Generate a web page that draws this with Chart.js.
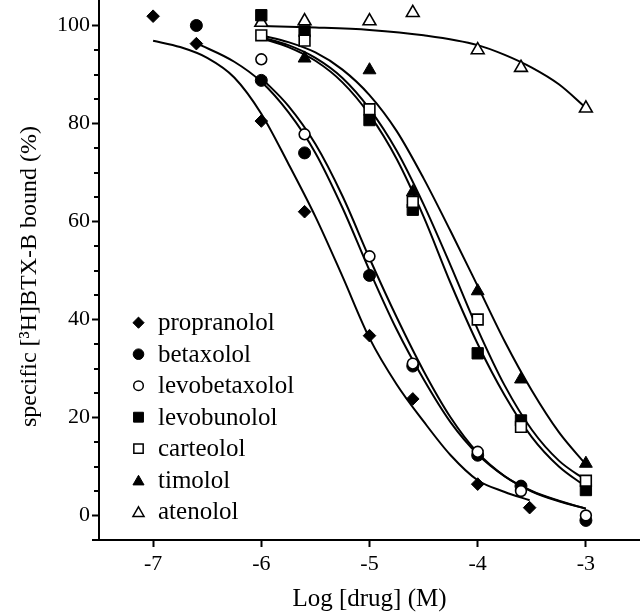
<!DOCTYPE html>
<html><head><meta charset="utf-8">
<script src="https://cdn.jsdelivr.net/npm/chart.js@4.4.1/dist/chart.umd.min.js"></script>
<style>html,body{margin:0;padding:0;background:#fff;}canvas{display:block;}</style>
</head><body>
<canvas id="c" width="640" height="614"></canvas>
<script>
// ---- tick values ----
const xTicks = [-7, -6, -5, -4, -3];
const yTicks = [0, 20, 40, 60, 80, 100];
const yMinorTicks = [5, 10, 15, 25, 30, 35, 45, 50, 55, 65, 70, 75, 85, 90, 95];

// ---- labels ----
const drugNames = ['propranolol', 'betaxolol', 'levobetaxolol', 'levobunolol', 'carteolol', 'timolol', 'atenolol'];
const xTitle = 'Log [drug] (M)';
const yTitle = 'specific [\u00B3H]BTX-B bound (%)\u00A0\u00A0';

// ---- measured points (log M, % bound) ----
const propranololX = [-7, -6.6, -6, -5.6, -5, -4.6, -4, -3.52];
const propranololY = [101.9, 96.3, 80.5, 62.0, 36.7, 23.8, 6.4, 1.6];
const betaxololX = [-6.6, -6, -5.6, -5, -4.6, -4, -3.6, -3];
const betaxololY = [100.0, 88.8, 74.0, 49.0, 30.5, 12.3, 6.0, -1.0];
const levobetaxololX = [-6, -5.6, -5, -4.6, -4, -3.6, -3];
const levobetaxololY = [93.1, 77.8, 52.9, 31.0, 13.0, 5.0, 0.0];
const levobunololX = [-6, -5.6, -5, -4.6, -4, -3.6, -3];
const levobunololY = [102.1, 98.8, 80.7, 62.4, 33.1, 19.4, 5.2];
const carteololX = [-6, -5.6, -5, -4.6, -4, -3.6, -3];
const carteololY = [98.0, 96.9, 82.9, 64.0, 40.0, 18.1, 7.1];
const timololX = [-5.6, -5, -4.6, -4, -3.6, -3];
const timololY = [93.3, 90.9, 66.0, 45.8, 27.8, 10.6];
const atenololX = [-6, -5.6, -5, -4.6, -4, -3.6, -3];
const atenololY = [100.6, 100.9, 100.9, 102.6, 95.0, 91.4, 83.1];

// ---- fitted curves ----
const propranololCurveX = [-7, -6.75, -6.5, -6.25, -6, -5.75, -5.5, -5.25, -5, -4.75, -4.5, -4.25, -4, -3.75, -3.52];
const propranololCurveY = [96.9, 95.6, 93.4, 89.4, 82.0, 71.8, 61.0, 48.8, 36.2, 26.8, 19.2, 12.3, 7.2, 4.8, 3.1];
const betaxololCurveX = [-6.6, -6.25, -6, -5.75, -5.5, -5.25, -5, -4.75, -4.5, -4.25, -4, -3.75, -3.5, -3.25, -3];
const betaxololCurveY = [96.4, 92.6, 88.5, 82.3, 74.0, 62.8, 50.0, 38.0, 27.8, 19.0, 12.5, 8.0, 5.0, 3.0, 1.4];
const levobetaxololCurveX = [-6, -5.75, -5.5, -5.25, -5, -4.75, -4.5, -4.25, -4, -3.75, -3.5, -3.25, -3];
const levobetaxololCurveY = [89.3, 83.6, 75.8, 65.2, 52.5, 40.5, 29.5, 20.0, 12.8, 8.0, 4.9, 2.9, 1.4];
const levobunololCurveX = [-6, -5.75, -5.5, -5.25, -5, -4.75, -4.5, -4.25, -4, -3.75, -3.5, -3.25, -3];
const levobunololCurveY = [97.4, 95.6, 92.8, 88.4, 81.8, 72.8, 61.0, 47.4, 35.0, 24.5, 16.0, 10.0, 5.9];
const carteololCurveX = [-6, -5.75, -5.5, -5.25, -5, -4.75, -4.5, -4.25, -4, -3.75, -3.5, -3.25, -3];
const carteololCurveY = [97.6, 96.0, 93.4, 89.3, 83.0, 74.5, 63.5, 51.0, 38.0, 26.5, 17.5, 11.2, 7.2];
const timololCurveX = [-6, -5.75, -5.5, -5.25, -5, -4.75, -4.5, -4.25, -4, -3.75, -3.5, -3.25, -3];
const timololCurveY = [98.0, 96.6, 94.5, 91.0, 85.8, 78.5, 68.8, 58.0, 46.8, 35.5, 25.5, 17.0, 10.4];
const atenololCurveX = [-6, -5.5, -5, -4.5, -4, -3.75, -3.5, -3.25, -3];
const atenololCurveY = [99.9, 99.6, 99.1, 98.0, 96.0, 94.0, 91.4, 88.0, 83.2];

// ---- styling (kept separate from data) ----
const markerStyle = {
  propranolol:   {shape: 'rectRot',  filled: true,  r: 6.3, lr: 5.6, order: 1},
  betaxolol:     {shape: 'circle',   filled: true,  r: 6.0, lr: 5.3, order: 1},
  levobetaxolol: {shape: 'circle',   filled: false, r: 5.4, lr: 4.8, order: 0},
  levobunolol:   {shape: 'rect',     filled: true,  r: 8.0, lr: 7.0, order: 1},
  carteolol:     {shape: 'rect',     filled: false, r: 7.6, lr: 6.6, order: 0},
  timolol:       {shape: 'triangle', filled: true,  r: 7.4, lr: 6.4, order: 1},
  atenolol:      {shape: 'triangle', filled: false, r: 7.4, lr: 6.4, order: 1.5}
};

const pointsX = [propranololX, betaxololX, levobetaxololX, levobunololX, carteololX, timololX, atenololX];
const pointsY = [propranololY, betaxololY, levobetaxololY, levobunololY, carteololY, timololY, atenololY];
const curvesX = [propranololCurveX, betaxololCurveX, levobetaxololCurveX, levobunololCurveX, carteololCurveX, timololCurveX, atenololCurveX];
const curvesY = [propranololCurveY, betaxololCurveY, levobetaxololCurveY, levobunololCurveY, carteololCurveY, timololCurveY, atenololCurveY];

const zip = (xs, ys) => xs.map((x, i) => ({x: x, y: ys[i]}));

const datasets = [];
drugNames.forEach((name, i) => {
  const s = markerStyle[name];
  datasets.push({
    label: name,
    data: zip(pointsX[i], pointsY[i]),
    showLine: false,
    pointStyle: s.shape,
    pointRadius: s.r,
    pointHoverRadius: s.r,
    pointBackgroundColor: s.filled ? '#000' : '#fff',
    pointBorderColor: '#000',
    pointBorderWidth: s.filled ? 1 : 1.6,
    clip: false,
    order: s.order
  });
});
drugNames.forEach((name, i) => {
  datasets.push({
    label: name + ' fit',
    data: zip(curvesX[i], curvesY[i]),
    showLine: true,
    pointRadius: 0,
    pointHoverRadius: 0,
    borderColor: '#000',
    borderWidth: 2,
    fill: false,
    cubicInterpolationMode: 'monotone',
    clip: false,
    order: 3
  });
});

function drawShape(ctx, shape, r, x, y) {
  if (Chart.helpers && Chart.helpers.drawPoint) {
    Chart.helpers.drawPoint(ctx, {pointStyle: shape, radius: r, rotation: 0, borderWidth: ctx.lineWidth}, x, y);
    return;
  }
  ctx.beginPath();
  if (shape === 'circle') ctx.arc(x, y, r, 0, Math.PI * 2);
  else if (shape === 'rect') { const h = r * Math.SQRT1_2; ctx.rect(x - h, y - h, 2 * h, 2 * h); }
  else if (shape === 'rectRot') { ctx.moveTo(x, y - r); ctx.lineTo(x + r, y); ctx.lineTo(x, y + r); ctx.lineTo(x - r, y); ctx.closePath(); }
  else if (shape === 'triangle') { ctx.moveTo(x, y - r); ctx.lineTo(x + r * 0.866, y + r / 2); ctx.lineTo(x - r * 0.866, y + r / 2); ctx.closePath(); }
  ctx.fill(); ctx.stroke();
}

const extras = {
  id: 'extras',
  afterDraw(chart) {
    const ctx = chart.ctx, ys = chart.scales.y, xs = chart.scales.x;
    ctx.save();
    ctx.strokeStyle = '#000';
    ctx.lineWidth = 2;
    yMinorTicks.forEach(v => {
      const py = Math.round(ys.getPixelForValue(v));
      ctx.beginPath(); ctx.moveTo(ys.right - 5, py); ctx.lineTo(ys.right, py); ctx.stroke();
    });
    ctx.beginPath(); ctx.moveTo(xs.left - 7, xs.top); ctx.lineTo(xs.left, xs.top); ctx.stroke();
    // legend
    const lx = 138.5, tx = 158, y0 = 322.7, dy = 31.5;
    ctx.font = "25px 'Liberation Serif', serif";
    ctx.textBaseline = 'alphabetic';
    ctx.textAlign = 'left';
    drugNames.forEach((name, i) => {
      const s = markerStyle[name];
      const y = y0 + i * dy;
      ctx.fillStyle = s.filled ? '#000' : '#fff';
      ctx.strokeStyle = '#000';
      ctx.lineWidth = s.filled ? 1 : 1.5;
      drawShape(ctx, s.shape, s.lr, lx, y + (s.shape === 'triangle' ? 1.5 : 0));
      ctx.fillStyle = '#000';
      ctx.fillText(name, tx, y + 7.5);
    });
    ctx.restore();
  }
};

Chart.defaults.font.family = "'Liberation Serif', 'Times New Roman', serif";
Chart.defaults.color = '#000';

new Chart(document.getElementById('c'), {
  type: 'scatter',
  data: {datasets: datasets},
  options: {
    responsive: false,
    animation: false,
    devicePixelRatio: 1,
    layout: {autoPadding: false, padding: {top: 1, right: 0, left: 0, bottom: 0}},
    plugins: {legend: {display: false}, tooltip: {enabled: false}},
    scales: {
      x: {
        type: 'linear', min: -7.5, max: -2.5,
        afterBuildTicks: a => { a.ticks = xTicks.map(v => ({value: v})); },
        afterFit: s => { s.height = 74; s.paddingLeft = 0; s.paddingRight = 0; s.paddingTop = 0; s.paddingBottom = 0; },
        ticks: {font: {size: 22}, padding: 4, color: '#000', callback: v => String(v)},
        grid: {drawOnChartArea: false, drawTicks: true, tickLength: 7, tickWidth: 2, tickColor: '#000'},
        border: {display: true, color: '#000', width: 2},
        title: {display: true, text: xTitle, font: {size: 25}, color: '#000', padding: {top: 0, bottom: 0}}
      },
      y: {
        type: 'linear', min: -5, max: 105,
        afterBuildTicks: a => { a.ticks = yTicks.map(v => ({value: v})); },
        afterFit: s => { s.width = 99; s.paddingLeft = 0; s.paddingRight = 0; s.paddingTop = 0; s.paddingBottom = 0; },
        ticks: {font: {size: 22}, padding: 2, color: '#000', callback: v => String(v)},
        grid: {drawOnChartArea: false, drawTicks: true, tickLength: 7, tickWidth: 2, tickColor: '#000'},
        border: {display: true, color: '#000', width: 2},
        title: {display: true, text: yTitle, font: {size: 24}, color: '#000', padding: {top: 15, bottom: 0}}
      }
    }
  },
  plugins: [extras]
});
</script>
</body></html>
